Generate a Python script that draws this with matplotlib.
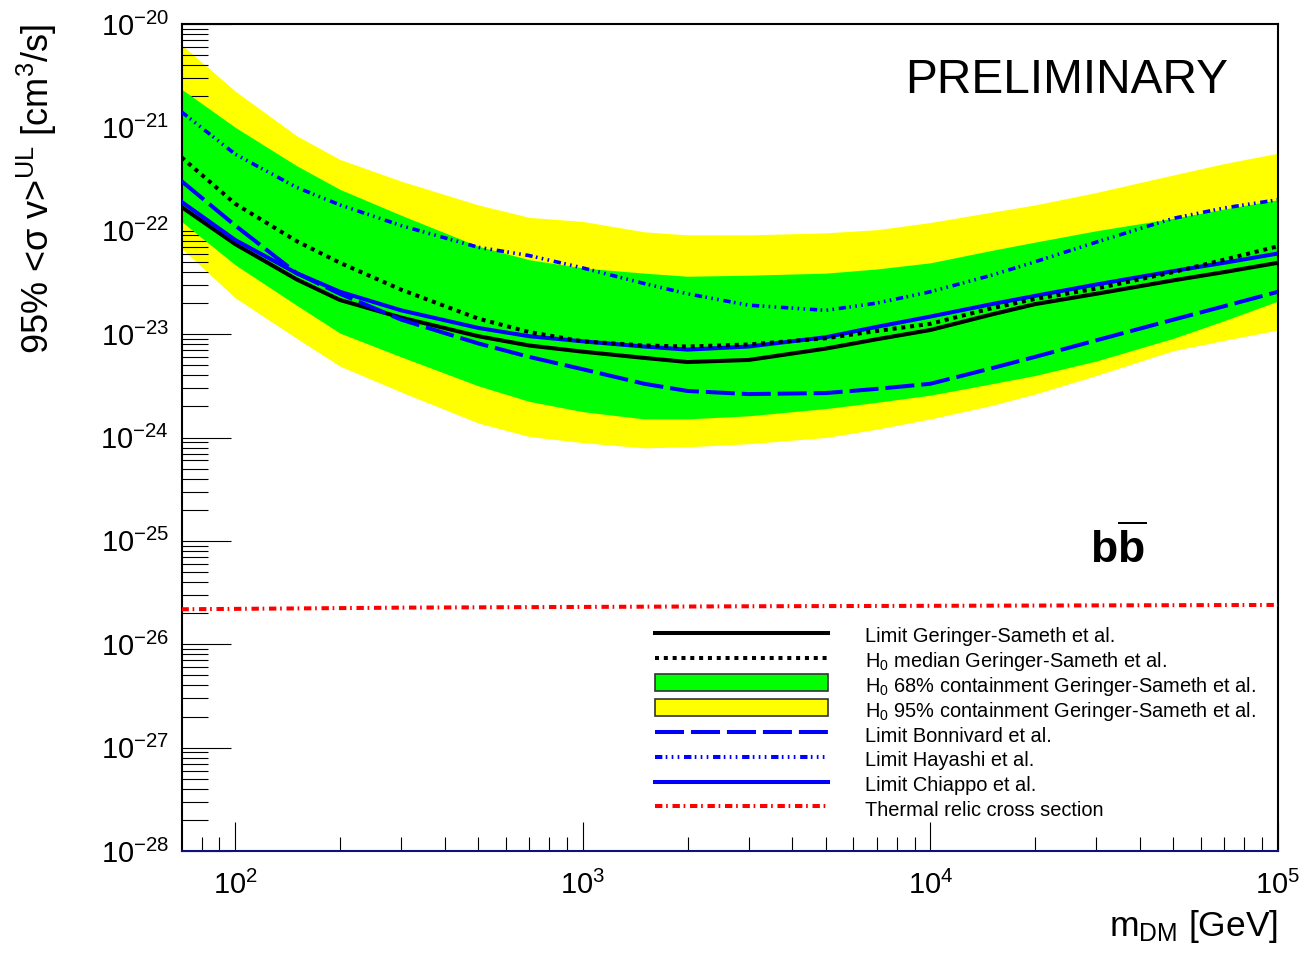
import numpy as np
import matplotlib
matplotlib.use('Agg')
import matplotlib.pyplot as plt
from matplotlib.lines import Line2D
from matplotlib.patches import Patch, Rectangle
from matplotlib.legend_handler import HandlerPatch
from matplotlib.ticker import FixedLocator, FuncFormatter, NullFormatter

plt.rcParams['font.family'] = ['Liberation Sans', 'DejaVu Sans']
plt.rcParams['mathtext.fontset'] = 'custom'
plt.rcParams['mathtext.rm'] = 'Liberation Sans'
plt.rcParams['mathtext.it'] = 'Liberation Sans:italic'
plt.rcParams['mathtext.bf'] = 'Liberation Sans:bold'
plt.rcParams['lines.scale_dashes'] = False

# DM mass grid (GeV) and log10(<sigma v>)
mass = [70, 100, 150, 200, 300, 500, 700, 1000, 1500, 2000, 3000, 5000,
        7000, 1e4, 1.5e4, 2e4, 3e4, 5e4, 7e4, 1e5]

band95_hi = [-20.20, -20.65, -21.08, -21.31, -21.52, -21.75, -21.87, -21.91, -22.01, -22.04,
             -22.04, -22.02, -21.99, -21.92, -21.82, -21.75, -21.63, -21.46, -21.35, -21.25]
band68_hi = [-20.63, -21.00, -21.37, -21.60, -21.85, -22.15, -22.28, -22.36, -22.41, -22.44,
             -22.43, -22.41, -22.37, -22.31, -22.19, -22.11, -22.00, -21.88, -21.79, -21.70]
band68_lo = [-21.91, -22.33, -22.72, -22.99, -23.22, -23.50, -23.65, -23.75, -23.82, -23.82,
             -23.79, -23.72, -23.66, -23.59, -23.48, -23.40, -23.26, -23.04, -22.87, -22.68]
band95_lo = [-22.17, -22.65, -23.04, -23.31, -23.56, -23.86, -23.99, -24.05, -24.10, -24.09,
             -24.06, -24.00, -23.92, -23.82, -23.69, -23.58, -23.40, -23.16, -23.06, -22.96]

gs_limit = [-21.77, -22.13, -22.47, -22.67, -22.84, -23.02, -23.11, -23.17, -23.23, -23.27,
            -23.25, -23.14, -23.05, -22.96, -22.81, -22.71, -22.61, -22.48, -22.40, -22.31]
gs_median = [-21.29, -21.74, -22.10, -22.31, -22.57, -22.85, -22.98, -23.07, -23.11, -23.12,
             -23.10, -23.04, -22.97, -22.90, -22.75, -22.66, -22.56, -22.40, -22.28, -22.15]
bonnivard = [-21.52, -21.95, -22.41, -22.61, -22.86, -23.09, -23.22, -23.34, -23.48, -23.55,
             -23.58, -23.57, -23.53, -23.48, -23.33, -23.22, -23.06, -22.86, -22.73, -22.59]
hayashi = [-20.85, -21.26, -21.58, -21.75, -21.95, -22.16, -22.24, -22.36, -22.51, -22.61,
           -22.72, -22.77, -22.70, -22.59, -22.43, -22.30, -22.11, -21.88, -21.78, -21.70]
chiappo = [-21.72, -22.09, -22.41, -22.59, -22.77, -22.94, -23.02, -23.07, -23.12, -23.15,
           -23.12, -23.03, -22.93, -22.83, -22.71, -22.63, -22.52, -22.39, -22.31, -22.22]

relic_mass = [70, 300, 3000, 1e5]
relic_xsec = [2.18e-26, 2.26e-26, 2.33e-26, 2.40e-26]

x_ticks = [1e2, 1e3, 1e4, 1e5]
y_ticks = [1e-28, 1e-27, 1e-26, 1e-25, 1e-24, 1e-23, 1e-22, 1e-21, 1e-20]

labels = ['Limit Geringer-Sameth et al.',
          'H$_0$ median Geringer-Sameth et al.',
          'H$_0$ 68% containment Geringer-Sameth et al.',
          'H$_0$ 95% containment Geringer-Sameth et al.',
          'Limit Bonnivard et al.',
          'Limit Hayashi et al.',
          'Limit Chiappo et al.',
          'Thermal relic cross section']


def lin(v):
    return np.power(10.0, np.array(v))


def minor_ticks(decades):
    out = []
    for d in decades[:-1]:
        out += [d * k for k in range(2, 10)]
    return out


def box_patch(legend, orig_handle, xdescent, ydescent, width, height, fontsize):
    # legend box drawn with the same centre as the line handles
    h = 0.86 * fontsize
    yc = (height - ydescent) / 2
    return Rectangle((-xdescent, yc - h / 2), width, h)


fig = plt.figure(figsize=(13.04, 9.55), dpi=100)
ax = fig.add_axes([181.5 / 1304, 1 - 851 / 955, (1278 - 181.5) / 1304, (851 - 24) / 955])

lw = 2.9
dot_style = (0, (2.9, 3.45))
bonn_style = (0, (20.9, 5.0))
hay_style = (0, (5.3, 2.4, 1.2, 3.1, 1.2, 3.1, 1.2, 3.4))
relic_style = (0, (5.3, 2.7, 1.2, 3.4))

ax.fill_between(mass, lin(band95_lo), lin(band95_hi), color='#ffff00', lw=0, zorder=1)
ax.fill_between(mass, lin(band68_lo), lin(band68_hi), color='#00ff00', lw=0, zorder=2)
ax.plot(mass, lin(gs_limit), color='black', lw=lw, zorder=3)
ax.plot(mass, lin(chiappo), color='#0000ff', lw=lw, zorder=3)
ax.plot(mass, lin(gs_median), color='black', lw=lw, ls=dot_style, zorder=4)
ax.plot(mass, lin(bonnivard), color='#0000ff', lw=lw, ls=bonn_style, zorder=4)
ax.plot(mass, lin(hayashi), color='#0000ff', lw=2.6, ls=hay_style, zorder=4)
ax.plot(relic_mass, relic_xsec, color='#ff0000', lw=lw, ls=relic_style, zorder=4)

ax.set_xscale('log')
ax.set_yscale('log')
ax.set_xlim(70, 1e5)
ax.set_ylim(1e-28, 1e-20)

# ROOT-like axes: ticks inside, only left and bottom
ax.xaxis.set_major_locator(FixedLocator(x_ticks))
ax.xaxis.set_minor_locator(FixedLocator([m for m in minor_ticks([10, 100, 1e3, 1e4, 1e5]) if m > 70]))
ax.yaxis.set_major_locator(FixedLocator(y_ticks))
ax.yaxis.set_minor_locator(FixedLocator(minor_ticks(y_ticks)))
fmt = FuncFormatter(lambda v, p: r'$10^{%d}$' % int(round(np.log10(v))))
ax.xaxis.set_major_formatter(fmt)
ax.yaxis.set_major_formatter(fmt)
ax.xaxis.set_minor_formatter(NullFormatter())
ax.yaxis.set_minor_formatter(NullFormatter())
ax.tick_params(axis='y', which='major', direction='in', length=35, width=0.8, labelsize=21, pad=9)
ax.tick_params(axis='y', which='minor', direction='in', length=18.7, width=0.8)
ax.tick_params(axis='x', which='major', direction='in', length=21, width=0.8, labelsize=21, pad=14)
ax.tick_params(axis='x', which='minor', direction='in', length=10.4, width=0.8)
for s in ax.spines.values():
    s.set_linewidth(1.5)
ax.spines['bottom'].set_color('#10107a')

handles = [Line2D([], [], color='black', lw=lw),
           Line2D([], [], color='black', lw=lw, ls=dot_style),
           Patch(facecolor='#00ff00', edgecolor='#333333', lw=1.2),
           Patch(facecolor='#ffff00', edgecolor='#333333', lw=1.2),
           Line2D([], [], color='#0000ff', lw=lw, ls=bonn_style),
           Line2D([], [], color='#0000ff', lw=lw, ls=hay_style),
           Line2D([], [], color='#0000ff', lw=lw),
           Line2D([], [], color='#ff0000', lw=lw, ls=relic_style)]
# tall handle boxes keep every row the same height
ax.legend(handles, labels, loc='upper left', bbox_to_anchor=(655 / 1304, 1 - 623 / 955),
          bbox_transform=fig.transFigure, frameon=False, fontsize=14.4,
          handlelength=8.67, handleheight=1.6, handletextpad=1.84,
          labelspacing=-0.045, borderpad=0, borderaxespad=0,
          handler_map={Patch: HandlerPatch(patch_func=box_patch)})

fig.text(905 / 1304, 1 - 93 / 955, 'PRELIMINARY', fontsize=34.5, ha='left', va='baseline')
fig.text(1090 / 1304, 1 - 563 / 955, r'$\mathbf{b}\overline{\mathbf{b}}$', fontsize=32,
         ha='left', va='baseline')
fig.text(1278 / 1304, 1 - 936 / 955, r'm$_{\mathrm{DM}}$ [GeV]', fontsize=25.5,
         ha='right', va='baseline')
fig.text(37 / 1304, 1 - 24 / 955, r'95% <σ v>$^{\mathrm{UL}}$ [cm$^{3}$/s]', fontsize=26,
         rotation=90, ha='center', va='top')

fig.savefig('out.png', dpi=100)
